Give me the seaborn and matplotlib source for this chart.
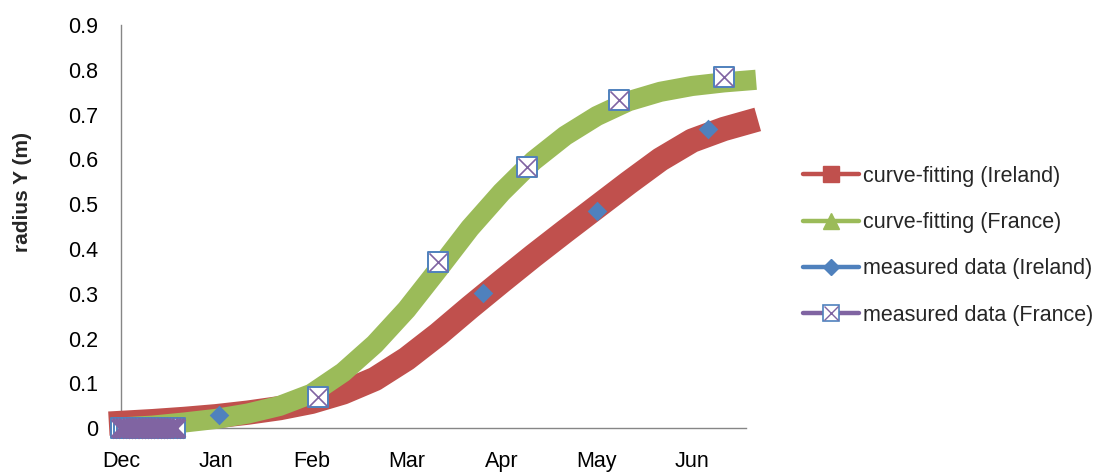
import matplotlib
matplotlib.use("Agg")
import matplotlib.pyplot as plt
from matplotlib.lines import Line2D
import seaborn as sns

# ---------------- data ----------------
month_labels = ["Dec", "Jan", "Feb", "Mar", "Apr", "May", "Jun"]
y_tick_values = [0, 0.1, 0.2, 0.3, 0.4, 0.5, 0.6, 0.7, 0.8, 0.9]
y_tick_labels = ["0", "0.1", "0.2", "0.3", "0.4", "0.5", "0.6", "0.7", "0.8", "0.9"]

# fitted curves (x in days from 1 Dec)
fit_days = [0, 10, 20, 30, 40, 50, 60, 70, 80, 90, 100, 110, 120, 130, 140,
            150, 160, 170, 180, 190, 197]
fit_ireland = [0.012, 0.016, 0.021, 0.027, 0.035, 0.045, 0.059, 0.080, 0.110,
               0.155, 0.210, 0.270, 0.328, 0.385, 0.440, 0.494, 0.548, 0.600,
               0.642, 0.668, 0.682]
fit_france = [0.002, 0.006, 0.013, 0.021, 0.033, 0.050, 0.077, 0.125, 0.188,
              0.265, 0.355, 0.447, 0.527, 0.597, 0.653, 0.697, 0.730, 0.751,
              0.764, 0.772, 0.776]

# measured data
meas_ireland_days = [31, 114, 150, 185]
meas_ireland_vals = [0.030, 0.303, 0.485, 0.667]

meas_france_days = [0, 1, 2, 3, 4, 5, 6, 7, 8, 9, 10, 11, 12, 13, 14, 15, 16, 17,
                    62, 100, 128, 157, 190]
meas_france_vals = [0, 0, 0, 0, 0, 0, 0, 0, 0, 0, 0, 0, 0, 0, 0, 0, 0, 0,
                    0.069, 0.371, 0.583, 0.733, 0.785]

legend_labels = ["curve-fitting (Ireland)", "curve-fitting (France)",
                 "measured data (Ireland)", "measured data (France)"]

# ---------------- style ----------------
RED = "#C0504D"
GREEN = "#9BBB59"
BLUE = "#4F81BD"
PURPLE = "#8064A2"
AXIS = "#868686"

sns.set_style("white")
plt.rcParams["font.family"] = ["Liberation Sans", "DejaVu Sans"]

fig = plt.figure(figsize=(11.01, 4.75), dpi=100)
ax = fig.add_axes([0.1099, 0.0983, 0.5677, 0.849])

# fitted bands (dense-marker bands in the original, drawn as thick lines)
sns.lineplot(x=fit_days, y=fit_ireland, color=RED, ax=ax, zorder=3)
sns.lineplot(x=fit_days, y=fit_france, color=GREEN, ax=ax, zorder=4)
band_widths = [17.5, 14.5]
for ln, w in zip(ax.lines, band_widths):
    ln.set_linewidth(w)
    ln.set_solid_capstyle("projecting")
    ln.set_solid_joinstyle("round")
    ln.set_clip_on(False)

# measured Ireland
sns.scatterplot(x=meas_ireland_days, y=meas_ireland_vals, marker="D", s=100,
                color=BLUE, edgecolor=BLUE, linewidth=0, ax=ax, zorder=5)

# measured France: boxed X markers
sns.scatterplot(x=meas_france_days, y=meas_france_vals, marker="s", s=200,
                facecolor="white", edgecolor=BLUE, linewidth=1.4, ax=ax, zorder=6)
zero_days = [d for d, v in zip(meas_france_days, meas_france_vals) if v == 0]
zero_vals = [v for v in meas_france_vals if v == 0]
other_days = [d for d, v in zip(meas_france_days, meas_france_vals) if v != 0]
other_vals = [v for v in meas_france_vals if v != 0]
sns.scatterplot(x=zero_days, y=zero_vals, marker="x", s=180, color=PURPLE,
                linewidth=3.0, ax=ax, zorder=7)
sns.scatterplot(x=other_days, y=other_vals, marker="x", s=170, color=PURPLE,
                linewidth=1.2, ax=ax, zorder=7)
for c in ax.collections:
    c.set_clip_on(False)

# axes
ax.set_xlim(0, 197)
ax.set_ylim(0, 0.9)
xt = list(range(0, 196, 15))
ax.set_xticks(xt)
ax.set_xticklabels([month_labels[i // 2] if i % 2 == 0 else "" for i in range(len(xt))])
ax.set_yticks(y_tick_values)
ax.set_yticklabels(y_tick_labels)

for side in ["top", "right"]:
    ax.spines[side].set_visible(False)
for side in ["left", "bottom"]:
    ax.spines[side].set_color(AXIS)
    ax.spines[side].set_linewidth(1.0)

ax.tick_params(axis="both", direction="out", length=5.3, width=1.0,
               color=AXIS, labelsize=15.5, labelcolor="black")
ax.tick_params(axis="y", pad=11)
ax.tick_params(axis="x", pad=11)

ax.set_ylabel("radius Y (m)", fontsize=15, fontweight="bold")
ax.yaxis.set_label_coords(-0.158, 0.585)
ax.yaxis.label.set_verticalalignment("center")

# legend
h_red = Line2D([], [], color=RED, lw=3.2, marker="s", markersize=12,
               markerfacecolor=RED, markeredgecolor=RED)
h_green = Line2D([], [], color=GREEN, lw=3.2, marker="^", markersize=12,
                 markerfacecolor=GREEN, markeredgecolor=GREEN)
h_blue = Line2D([], [], color=BLUE, lw=3.2, marker="D", markersize=8,
                markerfacecolor=BLUE, markeredgecolor=BLUE)
h_purple_box = Line2D([], [], color=PURPLE, lw=3.2, marker="s", markersize=11,
                      markerfacecolor="white", markeredgecolor=BLUE,
                      markeredgewidth=1.2)
h_purple_x = Line2D([], [], color=PURPLE, lw=0, marker="x", markersize=10,
                    markeredgewidth=1.0)
leg = ax.legend([h_red, h_green, h_blue, (h_purple_box, h_purple_x)],
                legend_labels, loc="upper left",
                bbox_to_anchor=(803 / 1101, 1 - 166 / 475),
                bbox_transform=fig.transFigure, frameon=False,
                fontsize=15.5, handlelength=2.6, handletextpad=0.2,
                labelspacing=1.17, borderpad=0, borderaxespad=0)

fig.savefig("out.png", dpi=100)
